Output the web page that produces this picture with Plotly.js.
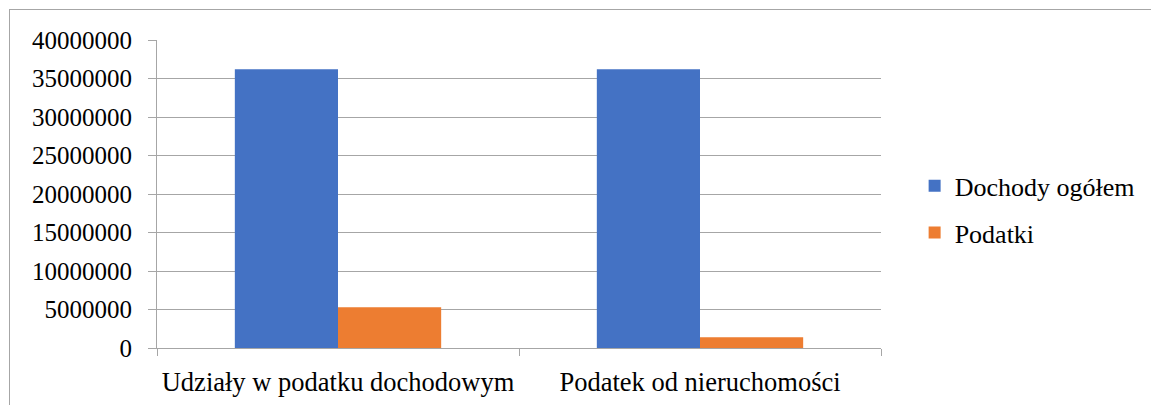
<!DOCTYPE html>
<html>
<head>
<meta charset="utf-8">
<script src="https://cdn.plot.ly/plotly-3.0.1.min.js"></script>
<style>
  html, body { margin: 0; padding: 0; background: #fff; }
  #wrap { position: relative; width: 1151px; height: 405px; overflow: hidden; }
  #chart { position: absolute; left: 0; top: 0; width: 1151px; height: 405px; }
  #frame { position: absolute; left: 9px; top: 9px; width: 1200px; height: 450px;
           border: 1.5px solid #a6a6a6; box-sizing: border-box; pointer-events: none; }
</style>
</head>
<body>
<div id="wrap">
  <div id="chart"></div>
  <div id="frame"></div>
</div>
<script>
const categories = ["Udziały w podatku dochodowym", "Podatek od nieruchomości"];
const dochodyOgolem = [36200000, 36200000];
const podatki = [5300000, 1400000];
const yTicks = [0, 5000000, 10000000, 15000000, 20000000, 25000000, 30000000, 35000000, 40000000];
const yTickLabels = ["0", "5000000", "10000000", "15000000", "20000000", "25000000", "30000000", "35000000", "40000000"];

const fam = "Liberation Serif";
const yFont = { family: fam, size: 25, color: "#000" };
const xFont = { family: fam, size: 26.5, color: "#000" };
const legFont = { family: fam, size: 26, color: "#000" };

const data = [
  { type: "bar", name: "Dochody ogółem", legendgroup: "a", x: categories, y: dochodyOgolem, marker: { color: "#4472C4" } },
  { type: "bar", name: "Podatki", legendgroup: "b", x: categories, y: podatki, marker: { color: "#ED7D31" } }
];

const layout = {
  width: 1151, height: 405,
  margin: { l: 157, r: 269, t: 40, b: 57 },
  paper_bgcolor: "rgba(0,0,0,0)", plot_bgcolor: "#fff",
  font: yFont,
  barmode: "group", bargap: 0.43, bargroupgap: 0,
  showlegend: true,
  legend: { x: 1.045, y: 0.45, xanchor: "left", yanchor: "middle", font: legFont,
            tracegroupgap: 10, itemwidth: 30, bgcolor: "rgba(0,0,0,0)" },
  xaxis: {
    type: "category", tickson: "boundaries", ticks: "outside", ticklen: 7, tickcolor: "#a6a6a6",
    showline: true, linecolor: "#a6a6a6", linewidth: 1, showgrid: false,
    tickfont: xFont, ticklabelstandoff: 10, fixedrange: true
  },
  yaxis: {
    range: [0, 40000000], tickvals: yTicks, ticktext: yTickLabels,
    ticks: "outside", ticklen: 8, tickcolor: "#a6a6a6",
    showline: true, linecolor: "#a6a6a6", linewidth: 1,
    showgrid: true, gridcolor: "#a6a6a6", gridwidth: 1, zeroline: false,
    tickfont: yFont, ticklabelstandoff: 11, fixedrange: true
  }
};

Plotly.newPlot("chart", data, layout, { displayModeBar: false, staticPlot: true });
</script>
</body>
</html>
